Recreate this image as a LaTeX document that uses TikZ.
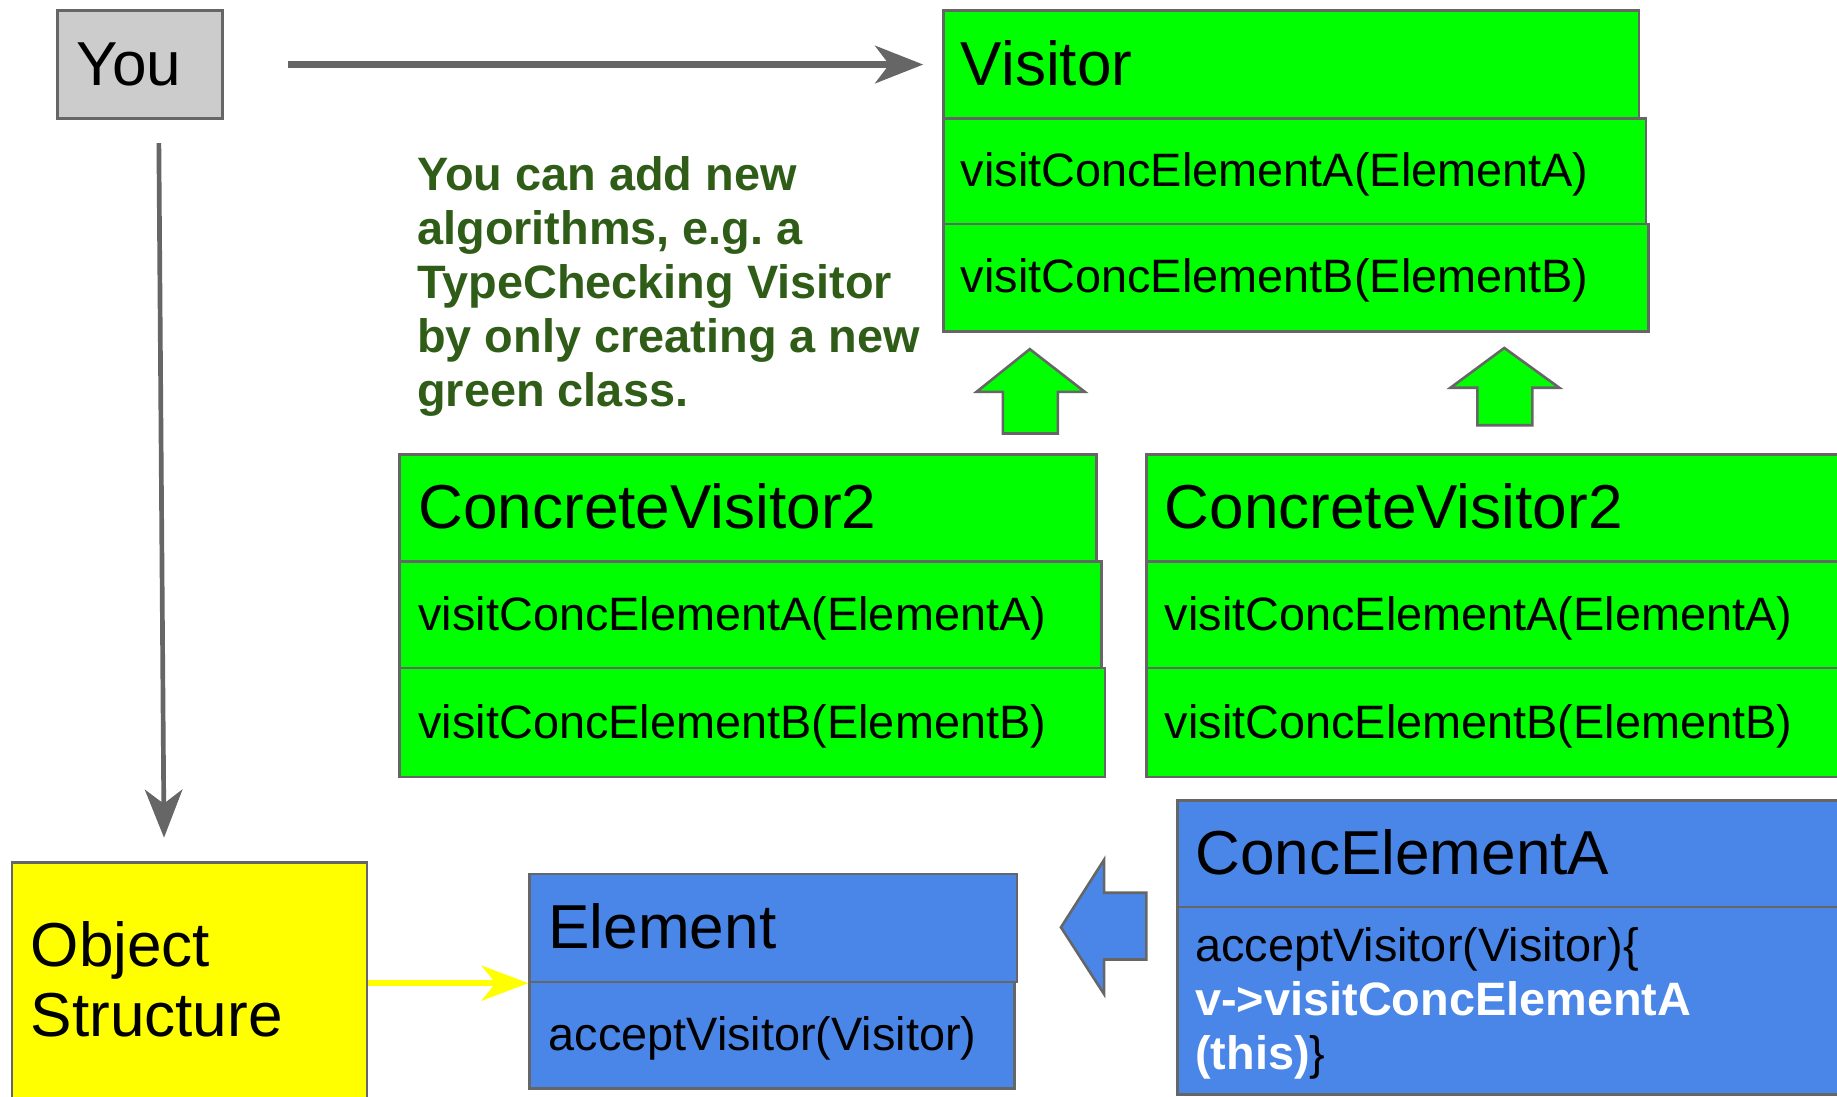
\documentclass[tikz,border=0pt]{standalone}
\usepackage{fontspec}
\setmainfont{Liberation Sans}
\usetikzlibrary{arrows.meta}
\frenchspacing

\definecolor{boxgreen}{HTML}{00FF00}
\definecolor{boxblue}{HTML}{4A86E8}
\definecolor{boxyellow}{HTML}{FFFF00}
\definecolor{boxgray}{HTML}{CCCCCC}
\definecolor{edgegray}{HTML}{666666}
\definecolor{notegreen}{HTML}{2F5D18}

\tikzset{
  cell/.style={draw=edgegray, line width=2.2pt, inner sep=0pt, anchor=north west},
  greencell/.style={cell, fill=boxgreen},
  bluecell/.style={cell, fill=boxblue},
  bigtxt/.style={anchor=base west, inner sep=0pt, font=\fontsize{53}{60}\selectfont},
  smalltxt/.style={anchor=base west, inner sep=0pt, font=\fontsize{40}{46}\selectfont},
  notetxt/.style={anchor=base west, inner sep=0pt, text=notegreen, font=\fontsize{40}{46}\selectfont\bfseries},
  codetxt/.style={anchor=base west, inner sep=0pt, font=\fontsize{40}{46}\selectfont},
  grayarrow/.style={draw=edgegray, -{Stealth[length=41pt, width=32pt, inset=12pt]}},
  yellowarrow/.style={draw=boxyellow, line width=5pt, -{Stealth[length=40pt, width=30pt, inset=12pt]}},
  blockarrow/.style={draw=edgegray, line width=2.2pt, line join=miter},
}

\begin{document}
\begin{tikzpicture}[x=1pt, y=-1pt]
\clip (0,0) rectangle (1568,936);
\fill[white] (0,0) rectangle (1568,936);

% "You" actor box
\node[cell, fill=boxgray, minimum width=141, minimum height=92] (you) at (48,8) {};
\node[bigtxt] (youtxt) at (65,73) {You};

% Visitor interface
\node[greencell, minimum width=594, minimum height=92] (vtitle) at (804,8) {};
\node[greencell, minimum width=600, minimum height=90] (vrowa) at (804,100) {};
\node[greencell, minimum width=602, minimum height=92] (vrowb) at (804,190) {};
\node[bigtxt] (vtitletxt) at (820,73) {Visitor};
\node[smalltxt] (vrowatxt) at (820,159) {visitConcElementA(ElementA)};
\node[smalltxt] (vrowbtxt) at (820,250) {visitConcElementB(ElementB)};

% Note on adding new algorithms
\node[notetxt] (note1) at (356,163) {You can add new};
\node[notetxt] (note2) at (356,209) {algorithms, e.g. a};
\node[notetxt] (note3) at (356,255) {TypeChecking Visitor};
\node[notetxt] (note4) at (356,301) {by only creating a new};
\node[notetxt] (note5) at (356,347) {green class.};

% Inheritance arrows up to Visitor
\filldraw[blockarrow, fill=boxgreen]
  (879,298) -- (926,334.5) -- (903,334.5) -- (903,370) -- (856,370) -- (856,334.5) -- (833.5,334.5) -- cycle;
\filldraw[blockarrow, fill=boxgreen]
  (1284,297) -- (1331,331) -- (1308,331) -- (1308,363) -- (1261,363) -- (1261,331) -- (1238,331) -- cycle;

% Concrete visitor, left
\node[greencell, minimum width=595, minimum height=91] (cvltitle) at (340,387) {};
\node[greencell, minimum width=599, minimum height=91] (cvlrowa) at (340,478) {};
\node[greencell, minimum width=602, minimum height=93] (cvlrowb) at (340,569) {};
\node[bigtxt] (cvltitletxt) at (357,451.5) {ConcreteVisitor2};
\node[smalltxt] (cvlrowatxt) at (357,538) {visitConcElementA(ElementA)};
\node[smalltxt] (cvlrowbtxt) at (357,630) {visitConcElementB(ElementB)};

% Concrete visitor, right
\node[greencell, minimum width=640, minimum height=91] (cvrtitle) at (977.5,387) {};
\node[greencell, minimum width=640, minimum height=91] (cvrrowa) at (977.5,478) {};
\node[greencell, minimum width=640, minimum height=93] (cvrrowb) at (977.5,569) {};
\node[bigtxt] (cvrtitletxt) at (994,451.5) {ConcreteVisitor2};
\node[smalltxt] (cvrrowatxt) at (994,538) {visitConcElementA(ElementA)};
\node[smalltxt] (cvrrowbtxt) at (994,630) {visitConcElementB(ElementB)};

% Object structure
\node[cell, fill=boxyellow, minimum width=303, minimum height=230] (os) at (9,735) {};
\node[bigtxt] (ostxt1) at (26,825) {Object};
\node[bigtxt] (ostxt2) at (26,885) {Structure};

% Element interface
\node[bluecell, minimum width=416, minimum height=92] (eltitle) at (451,745) {};
\node[bluecell, minimum width=414, minimum height=91] (elrow) at (451,837) {};
\node[bigtxt] (eltitletxt) at (468,810) {Element};
\node[smalltxt] (elrowtxt) at (468,897) {acceptVisitor(Visitor)};

% Concrete element
\node[bluecell, minimum width=620, minimum height=91] (cetitle) at (1004,682) {};
\node[bluecell, minimum width=620, minimum height=160] (cebody) at (1004,773) {};
\node[bigtxt] (cetitletxt) at (1020,746.5) {ConcElementA};
\node[codetxt] (celine1) at (1020,821) {acceptVisitor(Visitor)\{};
\node[codetxt, text=white, font=\fontsize{40}{46}\selectfont\bfseries] (celine2) at (1020,867) {v->visitConcElementA};
\node[codetxt] (celine3) at (1020,913) {\textcolor{white}{\bfseries (this)}\}};

% Inheritance arrow to Element
\filldraw[blockarrow, fill=boxblue]
  (905.6,791.5) -- (942.5,733.7) -- (942.5,762) -- (978.5,762) -- (978.5,819) -- (942.5,819) -- (942.5,848.7) -- cycle;

% Connectors
\draw[grayarrow, line width=5.5pt] ([xshift=55]you.east) -- ([xshift=-16]vtitle.west);
\draw[grayarrow, line width=4pt] ([shift={(16,20)}]you.south) -- ([shift={(131,-20)}]os.north west);
\draw[yellowarrow] (eltitle.south west -| os.east) -- (eltitle.south west);
\end{tikzpicture}
\end{document}
